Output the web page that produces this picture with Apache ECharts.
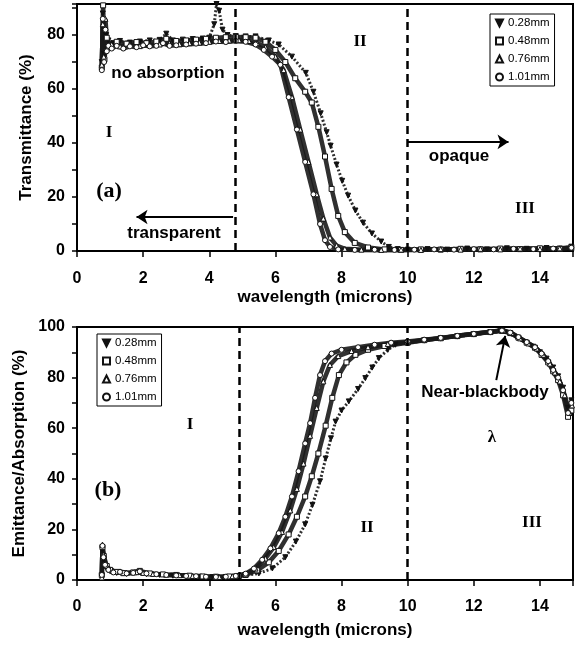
<!DOCTYPE html>
<html>
<head>
<meta charset="utf-8">
<script src="https://cdn.jsdelivr.net/npm/echarts@6/dist/echarts.min.js"></script>
<style>
  html, body { margin: 0; background: #fff; }
  #chart { width: 579px; height: 648px; }
</style>
</head>
<body>
<div id="chart"></div>
<script>
// wavelength (microns) vs transmittance / emittance, four sample thicknesses
const THICKNESS = ['0.28mm', '0.48mm', '0.76mm', '1.01mm'];

// (a) transmittance (%)
const TRANS_028 = [
  [0.75,70],[0.78,88],[0.82,73],[0.88,80],[0.95,78],[1.1,77],[1.3,77.8],[1.6,77.2],[1.9,77.6],[2.2,78],
  [2.5,78.2],[2.7,80.5],[2.9,78],[3.2,78.3],[3.5,78.5],[3.8,78.7],[4.0,79],[4.15,84],[4.22,91.5],[4.3,89],
  [4.4,82],[4.55,80],[4.8,79.6],[5.1,79.5],[5.4,79.5],[5.8,78],[6.1,76.5],[6.5,72],[6.92,66],[7.15,59],
  [7.37,51],[7.55,44],[7.67,39],[7.85,32],[8.02,26],[8.2,20.5],[8.42,15],[8.65,10.5],[8.92,6.5],[9.2,3.5],
  [9.43,1.5],[9.7,0.7],[10,0.5],[10.6,0.7],[11.2,0.5],[11.8,0.9],[12.4,0.6],[13,1],[13.6,0.8],[14.2,1.1],[14.6,0.9],[14.95,1.6]
];
const TRANS_048 = [
  [0.75,68],[0.79,91],[0.83,71],[0.9,79],[1.0,76],[1.2,77.5],[1.5,76.8],[1.8,77.4],[2.1,77],[2.4,77.6],
  [2.7,78.6],[3.0,77.8],[3.3,78],[3.6,78.3],[3.9,78.6],[4.2,79],[4.5,79.2],[4.8,79.3],[5.1,79.2],[5.4,79],
  [5.7,77.5],[6.0,74.5],[6.3,70],[6.6,64],[6.9,59],[7.1,55],[7.3,46],[7.5,35],[7.7,23],[7.9,13],
  [8.1,7],[8.4,3],[8.8,1.3],[9.3,0.6],[9.8,0.4],[10.4,0.6],[11,0.5],[11.6,0.8],[12.2,0.6],[12.8,0.9],[13.4,0.7],[14,1],[14.6,0.8],[14.95,1.3]
];
const TRANS_076 = [
  [0.75,69],[0.78,84],[0.81,72],[0.86,86],[0.92,75],[1.05,76.5],[1.3,75.8],[1.6,76.5],[1.9,75.9],[2.2,76.3],
  [2.5,76.5],[2.8,77],[3.1,76.6],[3.4,77],[3.7,77.2],[4.0,77.5],[4.3,77.8],[4.6,78],[4.9,78.1],[5.2,77.8],
  [5.45,77],[5.7,75.5],[6.0,72],[6.25,67],[6.5,57],[6.75,45],[7.0,33],[7.25,21],[7.45,12],[7.65,5],
  [7.85,2],[8.1,0.8],[8.6,0.5],[9.2,0.4],[9.8,0.5],[10.4,0.4],[11,0.7],[11.6,0.5],[12.2,0.8],[12.8,0.6],[13.4,0.9],[14,0.7],[14.6,1],[14.95,1.1]
];
const TRANS_101 = [
  [0.75,67],[0.78,86],[0.82,70],[0.86,82],[0.9,74],[0.95,76],[1.05,75],[1.2,76],[1.4,75],[1.6,75.8],
  [1.8,75.5],[2.0,76.2],[2.2,75.8],[2.4,76],[2.6,77],[2.8,76],[3.0,76.2],[3.3,76.5],[3.6,76.8],[3.9,77],
  [4.2,77.6],[4.5,77.4],[4.8,77.8],[5.1,77.5],[5.4,76.5],[5.65,74.5],[5.9,72],[6.15,69],[6.4,57],[6.65,45],
  [6.9,33],[7.15,21],[7.35,10],[7.5,4],[7.65,1.5],[7.9,0.6],[8.4,0.4],[9,0.5],[9.6,0.4],[10.2,0.5],
  [10.8,0.6],[11.4,0.5],[12,0.7],[12.6,0.6],[13.2,0.8],[13.8,0.7],[14.4,0.9],[14.95,1.2]
];

// (b) emittance / absorption (%)
const EMIT_028 = [
  [0.75,1.5],[0.77,12],[0.8,8],[0.88,5],[1.0,3.5],[1.2,2.8],[1.5,2.4],[1.8,2.9],[2.1,2.3],[2.5,2],
  [2.9,1.7],[3.3,1.5],[3.7,1.3],[4.1,1.1],[4.5,1.2],[4.8,1.4],[5.1,1.8],[5.5,2.6],[5.91,4.6],[6.3,9],
  [6.62,15.2],[6.9,22],[7.12,29.7],[7.35,39],[7.52,48],[7.68,56],[7.82,62.6],[8.0,67],[8.22,70.6],[8.5,75.5],
  [8.72,79.8],[8.93,84],[9.13,87.7],[9.4,91],[9.63,93],[10,93.8],[10.5,94.6],[11,95.4],[11.5,96.2],[12,97],
  [12.5,97.8],[12.8,98.3],[13.05,97.5],[13.3,95.8],[13.55,94],[13.8,92.2],[14.0,90],[14.2,87.5],[14.4,84],[14.55,80.5],[14.7,76],[14.85,68],[14.95,71]
];
const EMIT_048 = [
  [0.75,2],[0.77,13],[0.81,9.5],[0.9,5.5],[1.0,4],[1.2,3.2],[1.4,2.7],[1.7,3],[1.9,3.6],[2.2,2.6],
  [2.6,2.2],[3.0,2],[3.4,1.7],[3.8,1.4],[4.2,1.3],[4.6,1.4],[4.9,1.6],[5.1,2],[5.45,3.8],[5.8,7],
  [6.1,11.5],[6.4,18],[6.65,25],[6.9,33],[7.1,41],[7.3,50],[7.52,61],[7.72,72],[7.92,81],[8.15,86],
  [8.42,89],[8.8,91],[9.3,92.5],[10,93.8],[10.5,94.8],[11,95.6],[11.5,96.4],[12,97.2],[12.5,98],[12.85,98.5],
  [13.1,97.6],[13.35,95.8],[13.6,93.8],[13.85,91.8],[14.05,89],[14.25,86],[14.4,82.5],[14.55,79],[14.7,73],[14.85,64.5],[14.95,67]
];
const EMIT_076 = [
  [0.75,1],[0.77,14],[0.8,10],[0.86,6.5],[0.95,4.5],[1.1,3.5],[1.3,3.4],[1.5,2.8],[1.8,3.1],[2.0,2.8],
  [2.3,2.4],[2.7,2.1],[3.1,1.9],[3.5,1.6],[3.9,1.4],[4.3,1.2],[4.7,1.5],[5.1,2.2],[5.4,4.5],[5.7,8.5],
  [5.95,13],[6.2,19],[6.45,27.5],[6.65,36],[6.85,46],[7.05,57],[7.25,68],[7.45,78.5],[7.65,85],[7.9,88.5],
  [8.3,90.5],[8.8,92],[9.4,93.3],[10,94],[10.5,94.9],[11,95.6],[11.5,96.5],[12,97.3],[12.5,98.1],[12.9,98.7],
  [13.15,97.6],[13.4,95.5],[13.65,93.5],[13.9,91.5],[14.1,89],[14.3,85.5],[14.45,82],[14.6,78.5],[14.75,73],[14.9,66],[14.97,69]
];
const EMIT_101 = [
  [0.75,2],[0.77,13.5],[0.8,9],[0.85,6],[0.95,4],[1.1,3],[1.3,3.2],[1.5,2.6],[1.7,2.8],[1.9,3.4],
  [2.1,2.6],[2.4,2.3],[2.7,2],[3.0,1.8],[3.3,1.6],[3.6,1.5],[3.9,1.3],[4.2,1.2],[4.5,1.3],[4.8,1.6],
  [5.1,2.5],[5.35,4.5],[5.6,8],[5.85,12.5],[6.1,18.5],[6.3,25],[6.5,33],[6.7,43],[6.9,54],[7.05,62],
  [7.2,72],[7.35,81],[7.5,86.5],[7.7,89.5],[8.0,91],[8.5,92],[9.0,93],[9.5,93.8],[10,94.3],[10.5,95],
  [11,95.7],[11.5,96.5],[12,97.3],[12.5,98],[12.85,98.6],[13.1,97.8],[13.35,96],[13.6,94],[13.85,92],[14.05,89.5],
  [14.25,86.5],[14.4,83],[14.55,80],[14.7,75],[14.85,66],[14.95,70]
];

// x ticks every 2 microns, y ticks every 10 % (labels every 20)
const X_TICKS = [0, 2, 4, 6, 8, 10, 12, 14];
const Y_TICK_STEP = 10;

// region boundaries (dashed) in each panel
const BOUNDS_A = [4.8, 10];
const BOUNDS_B = [4.9, 10];

const SANS = '"Liberation Sans", Arial, sans-serif';
const SERIF = '"Liberation Serif", "Times New Roman", serif';

const SYMBOLS = {
  '0.28mm': { symbol: 'path://M0,0L10,0L5,10Z', fill: '#111' },
  '0.48mm': { symbol: 'rect', fill: '#fff' },
  '0.76mm': { symbol: 'triangle', fill: '#fff' },
  '1.01mm': { symbol: 'circle', fill: '#fff' },
};

function xAxis(grid, nameGap, margin) {
  return {
    type: 'value', gridIndex: grid, min: 0, max: 15, interval: 2,
    name: 'wavelength (microns)', nameLocation: 'middle', nameGap,
    nameTextStyle: { fontFamily: SANS, fontWeight: 'bold', fontSize: 17, color: '#000' },
    axisLine: { onZero: false, lineStyle: { color: '#000', width: 2 } },
    axisTick: { length: 6, lineStyle: { color: '#000', width: 1.5 } },
    axisLabel: {
      margin, fontFamily: SANS, fontWeight: 'bold', fontSize: 16, color: '#000',
      formatter: v => (X_TICKS.includes(v) ? String(v) : ''),
    },
    splitLine: { show: false },
  };
}

function yAxis(grid, max, name, nameGap) {
  return {
    type: 'value', gridIndex: grid, min: 0, max, interval: Y_TICK_STEP,
    name, nameLocation: 'middle', nameGap, nameRotate: 90,
    nameTextStyle: { fontFamily: SANS, fontWeight: 'bold', fontSize: 17, color: '#000' },
    axisLine: { lineStyle: { color: '#000', width: 2 } },
    axisTick: { length: 5, lineStyle: { color: '#000', width: 1.5 } },
    axisLabel: {
      margin: 12, fontFamily: SANS, fontWeight: 'bold', fontSize: 16, color: '#000',
      formatter: v => (v % 20 === 0 && v <= 100 ? String(v) : ''),
    },
    splitLine: { show: false },
  };
}

function curve(name, data, grid, extra) {
  const s = SYMBOLS[name];
  return Object.assign({
    name, type: 'line', data, xAxisIndex: grid, yAxisIndex: grid,
    symbol: s.symbol, symbolSize: 5, showSymbol: true, showAllSymbol: true,
    itemStyle: { color: s.fill, borderColor: '#111', borderWidth: 1 },
    lineStyle: { color: '#1a1a1a', width: name === '0.28mm' ? 3 : 4.5, opacity: 0.9,
                 type: name === '0.28mm' ? [2, 2] : 'solid' },
    emphasis: { disabled: true }, silent: true, animation: false, z: 3,
  }, extra || {});
}

function dashed(bounds) {
  return {
    silent: true, symbol: 'none', label: { show: false },
    lineStyle: { color: '#000', width: 2.5, type: [8, 5] },
    data: bounds.map(x => ({ xAxis: x })),
  };
}

function arrows(pairs) {
  return {
    silent: true, symbol: ['none', 'arrow'], symbolSize: 11, label: { show: false },
    itemStyle: { color: '#000' },
    lineStyle: { color: '#000', width: 2, type: 'solid' },
    data: pairs.map(p => [{ coord: p[0] }, { coord: p[1] }]),
  };
}

function legend(left, top) {
  return {
    orient: 'vertical', left, top, itemWidth: 7, itemHeight: 7, itemGap: 6,
    padding: [3, 5], borderColor: '#000', borderWidth: 1, backgroundColor: '#fff',
    selectedMode: false,
    textStyle: { fontFamily: SANS, fontSize: 11.5, color: '#000' },
    data: THICKNESS.map(n => ({ name: n, icon: SYMBOLS[n].symbol })),
  };
}

function note(text, x, y, font) {
  return { type: 'text', silent: true, z: 10,
    style: { text, x, y, font, fill: '#000', align: 'center', verticalAlign: 'middle',
             textAlign: 'center', textVerticalAlign: 'middle' } };
}

const chart = echarts.init(document.getElementById('chart'), null, { renderer: 'canvas' });

chart.setOption({
  animation: false,
  backgroundColor: '#fff',
  grid: [
    { left: 77, right: 6, top: 4, height: 247, show: true, borderColor: '#000', borderWidth: 2 },
    { left: 77, right: 6, top: 327, height: 253, show: true, borderColor: '#000', borderWidth: 2 },
  ],
  xAxis: [xAxis(0, 38, 20), xAxis(1, 42, 19)],
  yAxis: [yAxis(0, 91.5, 'Transmittance (%)', 42), yAxis(1, 100, 'Emittance/Absorption (%)', 45)],
  legend: [legend(490, 14), legend(97, 334)],
  series: [
    curve('0.28mm', TRANS_028, 0, { markLine: dashed(BOUNDS_A) }),
    curve('0.48mm', TRANS_048, 0, { markLine: arrows([[[4.72, 12.6], [1.8, 12.6]], [[10, 40.4], [13.05, 40.4]]]) }),
    curve('0.76mm', TRANS_076, 0),
    curve('1.01mm', TRANS_101, 0),
    curve('0.28mm', EMIT_028, 1, { markLine: dashed(BOUNDS_B) }),
    curve('0.48mm', EMIT_048, 1, { markLine: arrows([[[12.68, 79], [12.95, 96.5]]]) }),
    curve('0.76mm', EMIT_076, 1),
    curve('1.01mm', EMIT_101, 1),
  ],
  graphic: [
    note('no absorption', 168, 73, 'bold 17px ' + SANS),
    note('I', 109, 133, 'bold 17px ' + SERIF),
    note('(a)', 109, 191, 'bold 22px ' + SERIF),
    note('transparent', 174, 233, 'bold 17px ' + SANS),
    note('II', 360, 42, 'bold 17px ' + SERIF),
    note('opaque', 459, 156, 'bold 17px ' + SANS),
    note('III', 525, 209, 'bold 17px ' + SERIF),
    note('I', 190, 425, 'bold 17px ' + SERIF),
    note('(b)', 108, 490, 'bold 22px ' + SERIF),
    note('II', 367, 528, 'bold 17px ' + SERIF),
    note('III', 532, 523, 'bold 17px ' + SERIF),
    note('λ', 492, 438, 'bold 17px ' + SERIF),
    note('Near-blackbody', 485, 392, 'bold 17px ' + SANS),
  ],
});
window.addEventListener('resize', () => chart.resize());
</script>
</body>
</html>
